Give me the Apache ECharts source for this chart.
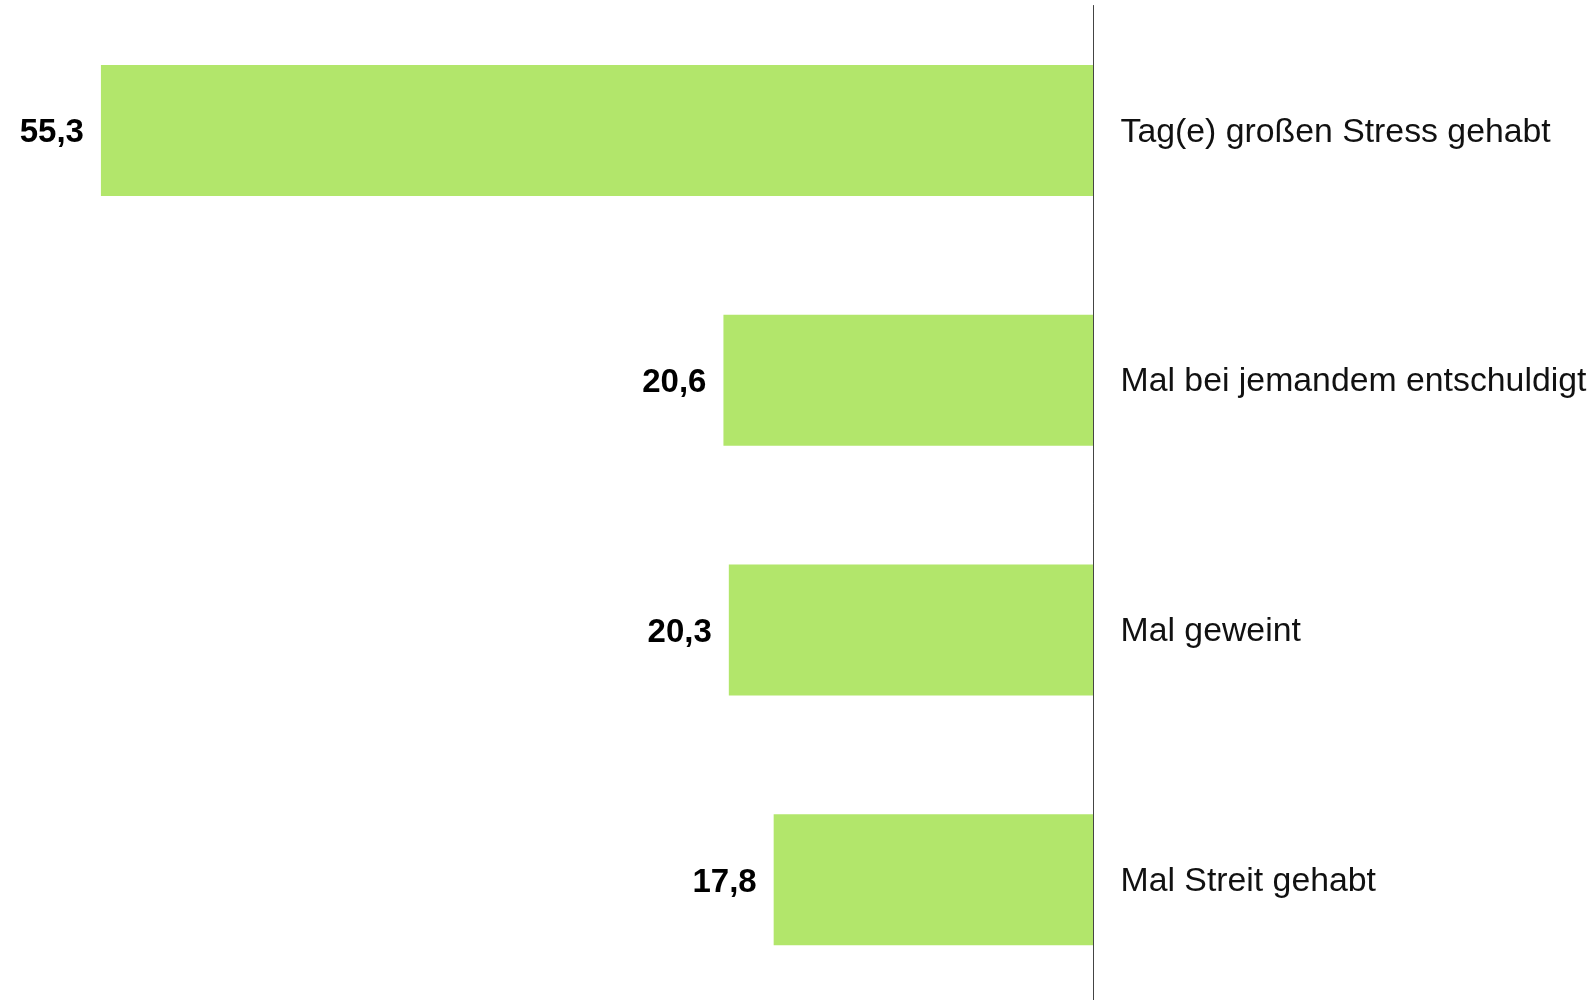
<!DOCTYPE html>
<html>
<head>
<meta charset="utf-8">
<script src="https://cdn.jsdelivr.net/npm/echarts@6/dist/echarts.min.js"></script>
<style>
    html, body { margin: 0; padding: 0; background: #fff; }
    #main { width: 1596px; height: 1000px; }
</style>
</head>
<body>
<div id="main"></div>
<script>
// Kategorien und Werte (in %)
var categories = ['Tag(e) großen Stress gehabt', 'Mal bei jemandem entschuldigt', 'Mal geweint', 'Mal Streit gehabt'];
var values = [55.3, 20.6, 20.3, 17.8];

var myChart = echarts.init(document.getElementById('main'));
var option = {
    animation: false,
    grid: {
        left: 16.6,
        right: 503,
        top: 5.5,
        height: 999,
        outerBoundsMode: 'none'
    },
    xAxis: {
        type: 'value',
        inverse: true,
        min: 0,
        max: 60,
        show: false
    },
    yAxis: {
        type: 'category',
        data: categories,
        inverse: true,
        position: 'right',
        axisTick: { show: false },
        axisLine: {
            show: true,
            lineStyle: { color: '#444', width: 1 }
        },
        axisLabel: {
            margin: 27.5,
            color: '#111',
            formatter: function (v) {
                return '{t|' + v + '}';
            },
            rich: {
                t: {
                    fontSize: 33.8,
                    color: '#111',
                    padding: [4, 0, 0, 0],
                    fontFamily: 'Liberation Sans, Arial, sans-serif'
                }
            }
        }
    },
    series: [{
        type: 'bar',
        data: values,
        barWidth: 131,
        itemStyle: { color: '#b2e66b' },
        label: {
            show: true,
            position: 'left',
            distance: 17,
            offset: [0, 3],
            fontSize: 33,
            fontWeight: 'bold',
            color: '#000',
            fontFamily: 'Liberation Sans, Arial, sans-serif',
            formatter: function (p) {
                return p.value.toFixed(1).replace('.', ',');
            }
        }
    }]
};
myChart.setOption(option);
window.addEventListener("resize", function () {
    myChart.resize();
});
</script>
</body>
</html>
